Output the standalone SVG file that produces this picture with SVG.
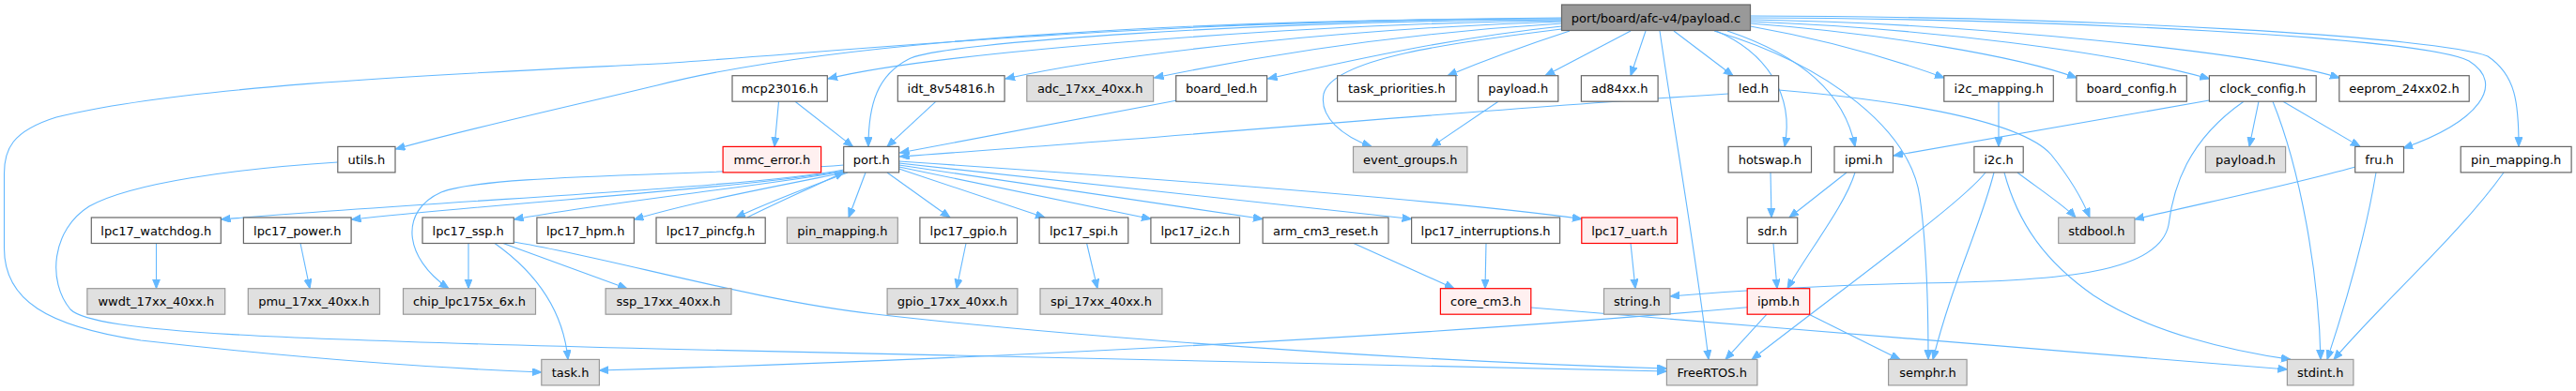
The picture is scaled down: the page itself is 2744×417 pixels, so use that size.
<svg xmlns="http://www.w3.org/2000/svg" width="2744" height="417" viewBox="0 0 2744 417">
<style>
rect{stroke-width:1.2}
.n rect{fill:#ffffff;stroke:#666666}
.g rect{fill:#e0e0e0;stroke:#999999}
.r rect{fill:#fff0f0;stroke:#ff0000}
.root rect{fill:#999999;stroke:#666666}
text{font-family:"DejaVu Sans","Liberation Sans",sans-serif;font-size:13px;text-anchor:middle;fill:#000000}
#edges path{fill:none;stroke:#63b8ff;stroke-width:1.1;marker-end:url(#a)}
</style>
<defs>
<marker id="a" markerUnits="userSpaceOnUse" markerWidth="12" markerHeight="10" refX="10" refY="4" orient="auto">
<path d="M0,0 L10,4 L0,8 Z" fill="#63b8ff" stroke="#63b8ff" stroke-width="1"/>
</marker>
</defs>
<rect x="0" y="0" width="2744" height="417" fill="#ffffff"/>
<g id="edges">
<!-- root edges -->
<path d="M1663.5,20 C1300,20 900,40 700,91 C600,115 500,137 421.5,159"/>
<path d="M1663.5,19 C1200,22 900,55 700,68 C500,78 200,90 60,125 C12,140 4.5,160 4.5,185 L4.5,265 C4.5,320 50,348 150,363 C300,380 450,392 576.8,397"/>
<path d="M1663.5,22 C1400,25 1000,55 882,84"/>
<path d="M1663.5,21 C1350,22 1000,45 968,63 C935,80 925,110 925,156.4"/>
<path d="M1663.5,23 C1450,30 1200,55 1071,84"/>
<path d="M1663.5,25 C1500,35 1350,58 1229.5,83"/>
<path d="M1663.5,28 C1550,40 1450,62 1350.5,84"/>
<path d="M1672,33 C1620,50 1580,65 1542,80.7"/>
<path d="M1663.5,31 C1550,45 1420,62 1410,100 C1405,125 1430,145 1461,156.4"/>
<path d="M1737,33 L1646,80.7"/>
<path d="M1753,33 L1737,80.7"/>
<path d="M1768,33 C1785,150 1805,260 1820,383.4"/>
<path d="M1783,33 L1846,80.7"/>
<path d="M1828,33 C1880,55 1912,100 1901,156.4"/>
<path d="M1840,33 C1920,60 1965,100 1976,156.4"/>
<path d="M1826,33 C1950,70 2035,140 2045,210 C2052,260 2054,330 2054,383.4"/>
<path d="M1864.5,28 C1960,45 2030,68 2071,83"/>
<path d="M1864.5,25 C2000,35 2150,60 2212,83"/>
<path d="M1864.5,23 C2050,30 2250,55 2353.4,84"/>
<path d="M1864.5,21 C2100,25 2400,55 2492,83"/>
<path d="M1864.5,19 C2200,20 2580,40 2630,65 C2670,90 2640,130 2560,158"/>
<path d="M1864.5,17 C2250,18 2600,40 2650,60 C2680,80 2683,110 2683,156.4"/>
<!-- row B edges -->
<path d="M829.5,108.2 L825,156.4"/>
<path d="M847,108.2 L908.5,156.4"/>
<path d="M997,108.2 L945,156.4"/>
<path d="M1254,107 L958.5,163"/>
<path d="M1841,100 C1600,115 1200,150 958.5,167"/>
<path d="M1596,108.2 L1525,156.4"/>
<path d="M1894.6,96 C2000,105 2150,125 2185,165 C2205,190 2218,212 2226,232"/>
<path d="M2129,108.2 L2129,156.4"/>
<path d="M2353.4,107 L2017,166"/>
<path d="M2406,108.2 L2396,156.4"/>
<path d="M2432,108.2 L2514,156.4"/>
<path d="M2421,108.2 C2450,180 2470,290 2472,383.4"/>
<path d="M2390,108.2 C2330,150 2315,200 2310,240 C2300,290 2200,300 2044,302 C1950,304 1850,310 1779,316"/>
<!-- row C edges -->
<path d="M359.8,173 C250,180 140,195 95,220 C55,245 50,300 75,330 C100,355 300,362 700,372 C1100,381 1500,390 1775.4,396"/>
<path d="M899,181 C800,200 500,212 235.5,234"/>
<path d="M899,182 C800,200 550,215 374.5,234"/>
<path d="M899,183 C800,200 650,215 547.5,234"/>
<path d="M900,184 C820,200 740,215 675.5,234"/>
<path d="M903,184 C860,200 820,215 784,232"/>
<path d="M796,232 C830,215 865,200 899,183.5"/>
<path d="M899,176 C750,188 520,185 470,205 C425,225 430,275 478,307.7"/>
<path d="M922,184 L904,232"/>
<path d="M945,184 L1012,232"/>
<path d="M957.6,180 L1113,232"/>
<path d="M957.6,178 L1226,233.5"/>
<path d="M957.6,176 L1345,233.5"/>
<path d="M957.6,174 L1503.6,233.5"/>
<path d="M957.6,172 C1300,195 1550,215 1685,233.5"/>
<path d="M1886,184 L1887,232"/>
<path d="M1967,184 L1906,232"/>
<path d="M1976,184 C1965,220 1925,270 1904,307.7"/>
<path d="M2115,184 C2090,215 2000,280 1866,383.4"/>
<path d="M2124,184 C2110,240 2080,300 2059,383.4"/>
<path d="M2149,184 C2170,200 2200,220 2211,232"/>
<path d="M2135,184 C2150,240 2180,280 2230,315 C2290,355 2380,375 2440,383.4"/>
<path d="M2509,178 C2430,200 2330,220 2274,234"/>
<path d="M2531,184 C2520,250 2500,320 2479,383.4"/>
<path d="M2667,184 C2620,250 2540,320 2486,383.4"/>
<!-- row D edges -->
<path d="M166.5,259.5 L166.5,307.7"/>
<path d="M320,259.5 L330,307.7"/>
<path d="M499,259.5 L499,307.7"/>
<path d="M527,259.5 C570,290 600,330 605,383.4"/>
<path d="M536,259.5 L668,307.7"/>
<path d="M547.3,258 C650,275 800,320 932,335 C1150,360 1500,385 1775.4,393"/>
<path d="M1029,259.5 L1019,307.7"/>
<path d="M1157.6,259.5 L1169,307.7"/>
<path d="M1442,259.5 L1549,307.7"/>
<path d="M1583,259.5 L1582,307.7"/>
<path d="M1737,259.5 L1742,307.7"/>
<path d="M1889,259.5 L1893,307.7"/>
<!-- row E edges -->
<path d="M1630.8,328 C1900,350 2200,375 2436.4,394"/>
<path d="M1861.2,327.7 C1500,360 1000,385 638.4,395"/>
<path d="M1882,335.2 L1838,383.4"/>
<path d="M1927,335.2 L2024,383.4"/>
</g>
<g id="n_root" class="root"><rect x="1663.5" y="5" width="201" height="27.5"/><text x="1764" y="23.5">port/board/afc-v4/payload.c</text></g>
<g id="n_mcp23016" class="n"><rect x="780" y="80.7" width="101.3" height="27.5"/><text x="830.6" y="99.2">mcp23016.h</text></g>
<g id="n_idt" class="n"><rect x="956.3" y="80.7" width="113.8" height="27.5"/><text x="1013.2" y="99.2">idt_8v54816.h</text></g>
<g id="n_adc" class="g"><rect x="1093.8" y="80.7" width="134.8" height="27.5"/><text x="1161.2" y="99.2">adc_17xx_40xx.h</text></g>
<g id="n_board_led" class="n"><rect x="1252.7" y="80.7" width="96.9" height="27.5"/><text x="1301.2" y="99.2">board_led.h</text></g>
<g id="n_task_priorities" class="n"><rect x="1424.6" y="80.7" width="126.3" height="27.5"/><text x="1487.8" y="99.2">task_priorities.h</text></g>
<g id="n_payload_h" class="n"><rect x="1574.6" y="80.7" width="85.2" height="27.5"/><text x="1617.2" y="99.2">payload.h</text></g>
<g id="n_ad84xx" class="n"><rect x="1684.4" y="80.7" width="81.7" height="27.5"/><text x="1725.3" y="99.2">ad84xx.h</text></g>
<g id="n_led" class="n"><rect x="1841.1" y="80.7" width="53.5" height="27.5"/><text x="1867.9" y="99.2">led.h</text></g>
<g id="n_i2c_mapping" class="n"><rect x="2070.8" y="80.7" width="116.5" height="27.5"/><text x="2129.1" y="99.2">i2c_mapping.h</text></g>
<g id="n_board_config" class="n"><rect x="2211.9" y="80.7" width="117.4" height="27.5"/><text x="2270.6" y="99.2">board_config.h</text></g>
<g id="n_clock_config" class="n"><rect x="2353.4" y="80.7" width="113.8" height="27.5"/><text x="2410.3" y="99.2">clock_config.h</text></g>
<g id="n_eeprom" class="n"><rect x="2491.8" y="80.7" width="138.4" height="27.5"/><text x="2561" y="99.2">eeprom_24xx02.h</text></g>
<g id="n_utils" class="n"><rect x="359.8" y="156.4" width="61.2" height="27.5"/><text x="390.4" y="174.9">utils.h</text></g>
<g id="n_mmc_error" class="r"><rect x="770.1" y="156.4" width="104.5" height="27.5"/><text x="822.4" y="174.9">mmc_error.h</text></g>
<g id="n_port" class="n"><rect x="898.7" y="156.4" width="58.9" height="27.5"/><text x="928.2" y="174.9">port.h</text></g>
<g id="n_event_groups" class="g"><rect x="1441.5" y="156.4" width="121.4" height="27.5"/><text x="1502.2" y="174.9">event_groups.h</text></g>
<g id="n_hotswap" class="n"><rect x="1841.1" y="156.4" width="88.4" height="27.5"/><text x="1885.3" y="174.9">hotswap.h</text></g>
<g id="n_ipmi" class="n"><rect x="1954" y="156.4" width="62.5" height="27.5"/><text x="1985.3" y="174.9">ipmi.h</text></g>
<g id="n_i2c" class="n"><rect x="2102.9" y="156.4" width="52.3" height="27.5"/><text x="2129.1" y="174.9">i2c.h</text></g>
<g id="n_payload_g" class="g"><rect x="2349.4" y="156.4" width="85.2" height="27.5"/><text x="2392" y="174.9">payload.h</text></g>
<g id="n_fru" class="n"><rect x="2508.7" y="156.4" width="51.8" height="27.5"/><text x="2534.6" y="174.9">fru.h</text></g>
<g id="n_pin_mapping" class="n"><rect x="2621.2" y="156.4" width="117.9" height="27.5"/><text x="2680.2" y="174.9">pin_mapping.h</text></g>
<g id="n_lpc17_watchdog" class="n"><rect x="97.3" y="232" width="138" height="27.5"/><text x="166.3" y="250.5">lpc17_watchdog.h</text></g>
<g id="n_lpc17_power" class="n"><rect x="259.4" y="232" width="114.7" height="27.5"/><text x="316.8" y="250.5">lpc17_power.h</text></g>
<g id="n_lpc17_ssp" class="n"><rect x="450" y="232" width="97.3" height="27.5"/><text x="498.7" y="250.5">lpc17_ssp.h</text></g>
<g id="n_lpc17_hpm" class="n"><rect x="571.9" y="232" width="103.5" height="27.5"/><text x="623.7" y="250.5">lpc17_hpm.h</text></g>
<g id="n_lpc17_pincfg" class="n"><rect x="699" y="232" width="116.2" height="27.5"/><text x="757.1" y="250.5">lpc17_pincfg.h</text></g>
<g id="n_pin_mapping_g" class="g"><rect x="838.4" y="232" width="117.9" height="27.5"/><text x="897.4" y="250.5">pin_mapping.h</text></g>
<g id="n_lpc17_gpio" class="n"><rect x="979.9" y="232" width="103.6" height="27.5"/><text x="1031.7" y="250.5">lpc17_gpio.h</text></g>
<g id="n_lpc17_spi" class="n"><rect x="1107.1" y="232" width="94.7" height="27.5"/><text x="1154.5" y="250.5">lpc17_spi.h</text></g>
<g id="n_lpc17_i2c" class="n"><rect x="1225.9" y="232" width="94.6" height="27.5"/><text x="1273.2" y="250.5">lpc17_i2c.h</text></g>
<g id="n_arm_cm3_reset" class="n"><rect x="1345.1" y="232" width="133.9" height="27.5"/><text x="1412.1" y="250.5">arm_cm3_reset.h</text></g>
<g id="n_lpc17_interruptions" class="n"><rect x="1503.6" y="232" width="158" height="27.5"/><text x="1582.6" y="250.5">lpc17_interruptions.h</text></g>
<g id="n_lpc17_uart" class="r"><rect x="1684.8" y="232" width="101.8" height="27.5"/><text x="1735.7" y="250.5">lpc17_uart.h</text></g>
<g id="n_sdr" class="n"><rect x="1861.2" y="232" width="53.5" height="27.5"/><text x="1888" y="250.5">sdr.h</text></g>
<g id="n_stdbool" class="g"><rect x="2192.7" y="232" width="81.2" height="27.5"/><text x="2233.3" y="250.5">stdbool.h</text></g>
<g id="n_wwdt" class="g"><rect x="92.9" y="307.7" width="146.8" height="27.5"/><text x="166.3" y="326.2">wwdt_17xx_40xx.h</text></g>
<g id="n_pmu" class="g"><rect x="264.3" y="307.7" width="140.2" height="27.5"/><text x="334.4" y="326.2">pmu_17xx_40xx.h</text></g>
<g id="n_chip" class="g"><rect x="429.5" y="307.7" width="141" height="27.5"/><text x="500" y="326.2">chip_lpc175x_6x.h</text></g>
<g id="n_ssp17" class="g"><rect x="645.1" y="307.7" width="133.9" height="27.5"/><text x="712.1" y="326.2">ssp_17xx_40xx.h</text></g>
<g id="n_gpio17" class="g"><rect x="945.1" y="307.7" width="138.8" height="27.5"/><text x="1014.5" y="326.2">gpio_17xx_40xx.h</text></g>
<g id="n_spi17" class="g"><rect x="1108" y="307.7" width="129.9" height="27.5"/><text x="1173" y="326.2">spi_17xx_40xx.h</text></g>
<g id="n_core_cm3" class="r"><rect x="1534.4" y="307.7" width="96.4" height="27.5"/><text x="1582.6" y="326.2">core_cm3.h</text></g>
<g id="n_string" class="g"><rect x="1708.5" y="307.7" width="70.5" height="27.5"/><text x="1743.8" y="326.2">string.h</text></g>
<g id="n_ipmb" class="r"><rect x="1861.2" y="307.7" width="66.5" height="27.5"/><text x="1894.5" y="326.2">ipmb.h</text></g>
<g id="n_task" class="g"><rect x="576.8" y="383.4" width="61.6" height="27.5"/><text x="607.6" y="401.9">task.h</text></g>
<g id="n_freertos" class="g"><rect x="1775.4" y="383.4" width="96.5" height="27.5"/><text x="1823.7" y="401.9">FreeRTOS.h</text></g>
<g id="n_semphr" class="g"><rect x="2011.6" y="383.4" width="83.5" height="27.5"/><text x="2053.4" y="401.9">semphr.h</text></g>
<g id="n_stdint" class="g"><rect x="2436.4" y="383.4" width="70.5" height="27.5"/><text x="2471.7" y="401.9">stdint.h</text></g>
</svg>
